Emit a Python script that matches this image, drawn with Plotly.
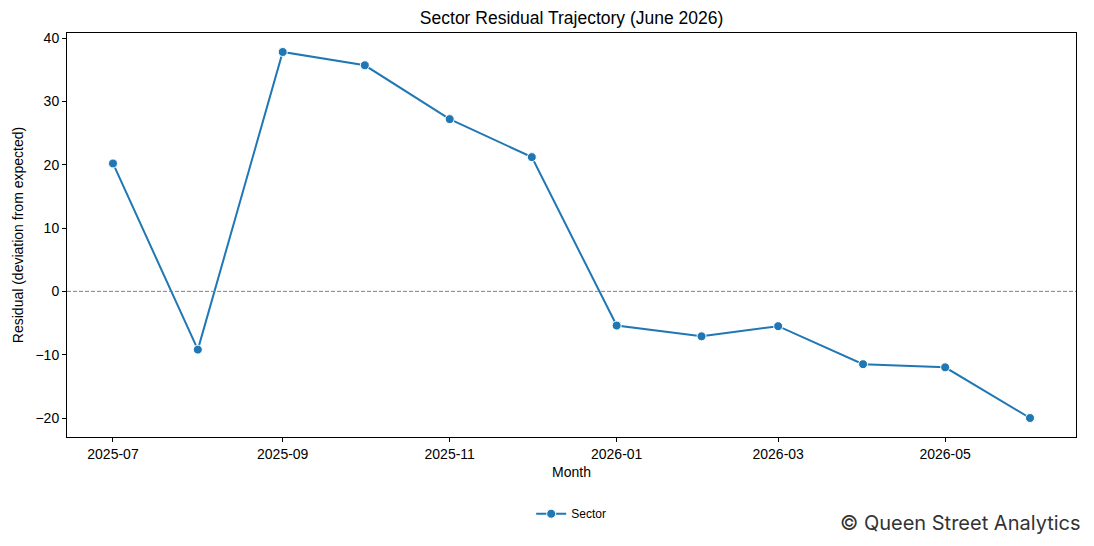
import plotly.graph_objects as go

months = ["2025-07-01", "2025-08-01", "2025-09-01", "2025-10-01", "2025-11-01", "2025-12-01",
          "2026-01-01", "2026-02-01", "2026-03-01", "2026-04-01", "2026-05-01", "2026-06-01"]
residuals = [20.2, -9.2, 37.8, 35.7, 27.2, 21.2, -5.4, -7.1, -5.5, -11.5, -12.0, -20.0]
tick_vals = ["2025-07-01", "2025-09-01", "2025-11-01", "2026-01-01", "2026-03-01", "2026-05-01"]
tick_text = ["2025-07", "2025-09", "2025-11", "2026-01", "2026-03", "2026-05"]
y_ticks = [-20, -10, 0, 10, 20, 30, 40]

FONT = "Liberation Sans, Arial, sans-serif"

fig = go.Figure()
fig.add_trace(go.Scatter(
    x=months, y=residuals, mode="lines+markers", name="Sector",
    line=dict(color="#1f77b4", width=2),
    marker=dict(size=9, color="#1f77b4", line=dict(color="white", width=1)),
))

fig.add_hline(y=0, line=dict(color="#808080", width=1, dash="4px,2px"))

fig.update_layout(
    width=1094, height=546,
    margin=dict(l=67, r=18, t=33, b=109),
    paper_bgcolor="white", plot_bgcolor="white",
    font=dict(family=FONT, size=14, color="black"),
    title=dict(text="Sector Residual Trajectory (June 2026)", x=0.5225, xanchor="center",
               y=1 - 18 / 546, yanchor="middle", font=dict(size=17.5, color="black")),
    showlegend=True,
    legend=dict(orientation="h", x=0.4997, xanchor="center", y=-0.19, yanchor="middle",
                font=dict(size=12), bgcolor="rgba(0,0,0,0)"),
    xaxis=dict(
        type="date", range=["2025-06-14 04:48", "2026-06-17 19:12"],
        tickvals=tick_vals, ticktext=tick_text,
        showgrid=False, zeroline=False,
        showline=True, linecolor="black", linewidth=1, mirror=True,
        ticks="outside", ticklen=4, tickcolor="black",
        title=dict(text="Month", font=dict(size=14), standoff=6),
    ),
    yaxis=dict(
        range=[-23.0, 40.8], tickvals=y_ticks,
        ticktext=[("\u2212" + str(abs(v))) if v < 0 else str(v) for v in y_ticks],
        showgrid=False, zeroline=False,
        showline=True, linecolor="black", linewidth=1, mirror=True,
        ticks="outside", ticklen=4, tickcolor="black",
        title=dict(text="Residual (deviation from expected)", font=dict(size=14), standoff=8),
    ),
)

fig.add_annotation(
    text="\u00a9 Queen Street Analytics", xref="paper", yref="paper",
    x=1 + 7 / 1009, xanchor="right", y=-(523 - 437) / 404, yanchor="middle",
    showarrow=False, font=dict(family="Inter, DejaVu Sans, sans-serif", size=20, color="#333333"),
)

fig.write_html("out.html")
